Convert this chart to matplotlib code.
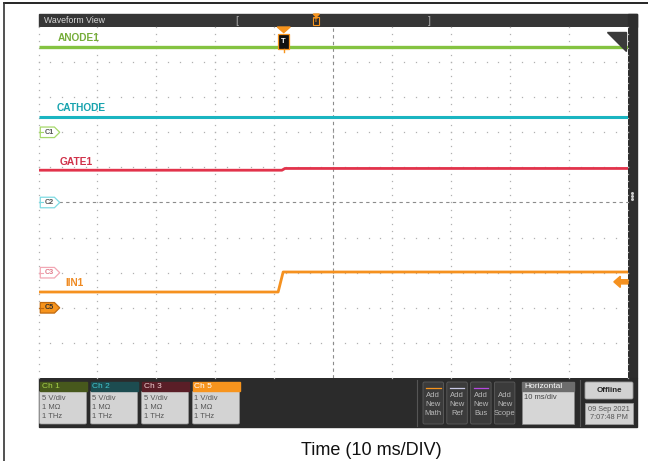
"""
示波器截图: ANODE1 / CATHODE / GATE1 / IIN1
10 ms/div, 触发点在 -8.4 ms
"""
import matplotlib.pyplot as plt
from matplotlib import font_manager
from matplotlib.patches import Rectangle, Polygon, FancyBboxPatch, Circle
from matplotlib.transforms import blended_transform_factory
import numpy as np

# 波形数据: 时间 ms, 纵向单位 div
anode_t = [-50, 50]
anode_v = [4.43, 4.43]
cathode_t = [-50, 50]
cathode_v = [2.44, 2.44]
gate_t = [-50, -8.7, -8.2, 50]
gate_v = [0.92, 0.92, 0.97, 0.97]
iin_t = [-50, -9.35, -8.5, 50]
iin_v = [-2.55, -2.55, -1.98, -1.98]

trig_t = -8.4        # 触发位置
trig_level = -2.26   # 触发电平箭头

# 通道零点标记
mark_names = ['C1', 'C2', 'C3', 'C5']
mark_levels = [2, 0, -2, -3]

# 底部通道信息
ch_titles = ['Ch 1', 'Ch 2', 'Ch 3', 'Ch 5']
ch_scales = ['5 V/div', '5 V/div', '5 V/div', '1 V/div']
ch_imp = ['1 MΩ', '1 MΩ', '1 MΩ', '1 MΩ']
ch_bw = ['1 THz', '1 THz', '1 THz', '1 THz']
add_items = ['Math', 'Ref', 'Bus', 'Scope']
h_scale = '10 ms/div'
date_lines = ['09 Sep 2021', '7:07:48 PM']

names = {f.name for f in font_manager.fontManager.ttflist}
ui_font = 'Liberation Sans Narrow' if 'Liberation Sans Narrow' in names else 'Liberation Sans'
plt.rcParams['font.family'] = ['Liberation Sans', 'DejaVu Sans']

W, H = 648, 461
fig = plt.figure(figsize=(W / 100, H / 100), dpi=100)

# 像素坐标的底层画布 (界面框架)
ui = fig.add_axes([0, 0, 1, 1], zorder=0)
ui.set_xlim(0, W)
ui.set_ylim(H, 0)
ui.axis('off')

X0, X1, Y0, Y1 = 38.5, 628, 27, 378
ax = fig.add_axes([X0 / W, 1 - Y1 / H, (X1 - X0) / W, (Y1 - Y0) / H], zorder=1)
ax.set_xlim(-50, 50)
ax.set_ylim(-5, 5)
ax.set_facecolor('white')
for s in ax.spines.values():
    s.set_visible(False)
ax.set_xticks([])
ax.set_yticks([])

# 外框
ui.plot([4, W], [3, 3], color='black', lw=1.2)
ui.plot([4, 4], [3, H], color='#333333', lw=1.2)

# 顶栏
ui.add_patch(Rectangle((X0, 14), 637 - X0, 13, color='#363636'))
ui.text(44, 20.5, 'Waveform View', color='#d8d8d8', fontsize=6.3, va='center',
        family=ui_font)
ui.text(235, 20.5, '[', color='#aaaaaa', fontsize=7.5, va='center')
ui.text(428, 20.5, ']', color='#aaaaaa', fontsize=7.5, va='center')
hx = 236 + (trig_t + 50) / 100 * 193
ui.add_patch(Polygon([[hx - 3, 14], [hx + 3, 14], [hx, 17]], color='#f7941d'))
ui.add_patch(Rectangle((hx - 3, 17), 6, 8, fc='#2a2a2a', ec='#f7941d', lw=0.8))
ui.text(hx, 21, 'T', color='#f7941d', fontsize=4.5, ha='center', va='center',
        weight='bold')

# 右侧竖条
ui.add_patch(Rectangle((X1, 14), 9, Y1 - 14, color='#2e2e2e'))
for dy in (-3, 0, 3):
    ui.add_patch(Circle((632.5, 196.5 + dy), 0.8, color='#cfcfcf'))

# 网格点 (每格 5 个小点)
grid_col = '#b0b0b0'
ys = np.arange(-5, 5.01, 0.2)
for gx in range(-50, 51, 10):
    if gx == 0:
        continue
    ax.plot(np.full_like(ys, gx), ys, ls='none', marker='s', ms=0.9, mew=0,
            color=grid_col, clip_on=False)
xs = np.arange(-50, 50.01, 2)
for gy in range(-4, 5):
    if gy == 0:
        continue
    ax.plot(xs, np.full_like(xs, gy), ls='none', marker='s', ms=0.9, mew=0,
            color=grid_col, clip_on=False)
ax.axvline(0, color='#8c8c8c', lw=0.8, ls=(0, (3, 3)))
ax.axhline(0, color='#8c8c8c', lw=0.8, ls=(0, (3, 3)))

# 波形
ax.plot(anode_t, anode_v, color='#84c341', lw=2.4, solid_capstyle='butt')
ax.plot(cathode_t, cathode_v, color='#1ab5c1', lw=2.2, solid_capstyle='butt')
ax.plot(gate_t, gate_v, color='#e2334b', lw=2.0, solid_capstyle='butt')
ax.plot(iin_t, iin_v, color='#f5911f', lw=2.0, solid_capstyle='butt')

bt = blended_transform_factory(ax.transAxes, ax.transData)
labels = [('ANODE1', 0.033, anode_v[0], '#76ad3a'),
          ('CATHODE', 0.030, cathode_v[0], '#17a3ae'),
          ('GATE1', 0.036, gate_v[0], '#d0324a'),
          ('IIN1', 0.045, iin_v[0], '#ef8a22')]
for txt, fx, lv, c in labels:
    ax.annotate(txt, xy=(fx, lv), xycoords=bt, xytext=(0, 6.2),
                textcoords='offset points', color=c, fontsize=7.3, va='center',
                family=ui_font, weight='bold')

# 通道标记
mark_style = {'C1': ('white', '#a6d96a', '#555555'),
              'C2': ('white', '#7fdbe3', '#555555'),
              'C3': ('white', '#f2a7b4', '#e07a8a'),
              'C5': ('#f7941d', '#c06a10', '#303030')}
hh = 0.15
for name, lv in zip(mark_names, mark_levels):
    fc, ec, tc = mark_style[name]
    pts = [[0.003, lv - hh], [0.027, lv - hh], [0.036, lv], [0.027, lv + hh],
           [0.003, lv + hh]]
    ax.add_patch(Polygon(pts, closed=True, transform=bt, fc=fc, ec=ec,
                         lw=0.9, zorder=5, clip_on=False))
    ax.plot([0.0, 0.007], [lv, lv], transform=bt, color=ec, lw=0.8, zorder=6)
    ax.text(0.019, lv, name, transform=bt, fontsize=5.2, color=tc,
            ha='center', va='center', zorder=7, weight='bold')

# 触发电平箭头
ax.add_patch(Polygon([[0.976, trig_level], [0.987, trig_level + 0.16],
                      [0.987, trig_level + 0.06], [1.0, trig_level + 0.06],
                      [1.0, trig_level - 0.06], [0.987, trig_level - 0.06],
                      [0.987, trig_level - 0.16]],
                     transform=bt, color='#f5911f', zorder=6, clip_on=False))

# 触发点标记
ax.add_patch(Polygon([[trig_t - 1.1, 5], [trig_t + 1.1, 5], [trig_t, 4.84]],
                     color='#f7941d', zorder=6, clip_on=False))
ax.add_patch(Rectangle((trig_t - 0.9, 4.36), 1.8, 0.44, fc='#111111',
                       ec='#f7941d', lw=0.9, zorder=6))
ax.plot([trig_t, trig_t], [4.36, 4.28], color='#f7941d', lw=1.0, zorder=6)
ax.text(trig_t, 4.58, 'T', color='white', fontsize=5.5, ha='center', va='center',
        weight='bold', zorder=7)

# 右上角放大镜三角
ax.add_patch(Polygon([[0.964, 4.87], [0.996, 4.87], [0.996, 4.32]],
                     transform=bt, color='#3a3a3a', zorder=6, clip_on=False))
ui.add_patch(Circle((619, 34.5), 2.2, fc='none', ec='#9a9a9a', lw=0.7, zorder=2))
ui.plot([617.4, 614.5], [36.2, 39.5], color='#9a9a9a', lw=0.9, zorder=2)

# 底部面板
ui.add_patch(Rectangle((X0, Y1), 637 - X0, 49, color='#2b2b2b'))
head_cols = ['#47581c', '#1c4c50', '#5a1e27', '#f7941d']
head_txt = ['#a6d04a', '#42c7d0', '#f0cfd2', 'white']
for i, title in enumerate(ch_titles):
    bx = 39.5 + i * 51
    ui.add_patch(FancyBboxPatch((bx, 391), 47, 33, boxstyle='round,pad=0,rounding_size=1.5',
                                fc='#d3d3d3', ec='#9a9a9a', lw=0.5))
    ui.add_patch(Rectangle((bx, 382), 47, 9, color=head_cols[i]))
    ui.text(bx + 2, 386.8, title, color=head_txt[i], fontsize=6, va='center',
            family=ui_font)
    for k, s in enumerate([ch_scales[i], ch_imp[i], ch_bw[i]]):
        ui.text(bx + 2, 398 + k * 9.2, s, color='#555555', fontsize=5.5,
                va='center', family=ui_font)

ui.plot([416.5, 416.5], [380, 426], color='#555555', lw=0.8)
ui.plot([579.5, 579.5], [380, 426], color='#555555', lw=0.8)
bar_cols = ['#f7941d', '#c9c9e6', '#b54ae0', None]
for i, item in enumerate(add_items):
    bx = 423 + i * 23.8
    ui.add_patch(FancyBboxPatch((bx, 382), 20.5, 42,
                                boxstyle='round,pad=0,rounding_size=1.5',
                                fc='#3b3b3b', ec='#5c5c5c', lw=0.6))
    if bar_cols[i]:
        ui.plot([bx + 3, bx + 17.5], [388, 388], color=bar_cols[i], lw=0.9)
    for k, s in enumerate(['Add', 'New', item]):
        ui.text(bx + 10.25, 395.5 + k * 9.2, s, color='#b9b9b9', fontsize=5.5,
                ha='center', va='center', family=ui_font)

ui.add_patch(Rectangle((522, 391), 51.5, 33, fc='#d6d6d6', ec='#8a8a8a', lw=0.5))
ui.add_patch(Rectangle((522, 382), 51.5, 9, color='#6d6d6d'))
ui.text(524, 386.8, 'Horizontal', color='white', fontsize=6, va='center',
        family=ui_font)
ui.text(524, 397.5, h_scale, color='#444444', fontsize=5.5, va='center',
        family=ui_font)

ui.add_patch(FancyBboxPatch((585, 382), 48, 17, boxstyle='round,pad=0,rounding_size=1.5',
                            fc='#d2d2d2', ec='#9a9a9a', lw=0.6))
ui.text(609, 390.5, 'Offline', color='#222222', fontsize=5.8, ha='center',
        va='center', weight='bold')
ui.add_patch(Rectangle((585, 403), 48, 21, fc='#d2d2d2', ec='#9a9a9a', lw=0.6))
for k, s in enumerate(date_lines):
    ui.text(609, 409 + k * 8.5, s, color='#555555', fontsize=5.3, ha='center',
            va='center', family=ui_font)

# 横轴说明
ui.text(371, 450, 'Time (10 ms/DIV)', fontsize=13, ha='center', va='center',
        color='#111111')

fig.savefig('out.png', dpi=100)
